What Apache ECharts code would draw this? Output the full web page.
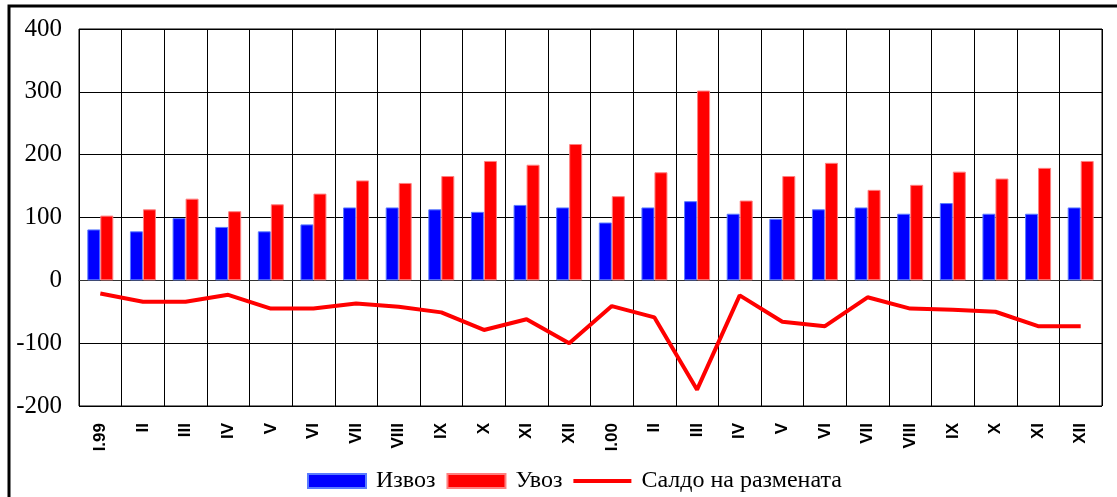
<!DOCTYPE html>
<html>
<head>
<meta charset="utf-8">
<script src="https://cdn.jsdelivr.net/npm/echarts@6/dist/echarts.min.js"></script>
<style>
  html, body { margin: 0; padding: 0; background: #fff; }
  #chart { width: 1117px; height: 497px; }
</style>
</head>
<body>
<div id="chart"></div>
<script>
const months = ['I.99', 'II', 'III', 'IV', 'V', 'VI', 'VII', 'VIII', 'IX', 'X', 'XI', 'XII',
                'I.00', 'II', 'III', 'IV', 'V', 'VI', 'VII', 'VIII', 'IX', 'X', 'XI', 'XII']
const exportVals = [81, 78, 99, 85, 78, 89, 116, 116, 113, 109, 120, 116,
                    92, 116, 126, 106, 98, 113, 116, 106, 123, 106, 106, 116]
const importVals = [103, 113, 130, 110, 121, 138, 159, 155, 166, 190, 184, 217,
                    134, 172, 302, 127, 166, 187, 144, 152, 173, 162, 179, 190]
const balanceVals = [-21, -34, -34, -23, -45, -45, -37, -42, -51, -79, -62, -100,
                     -41, -59, -174, -24, -66, -73, -27, -45, -47, -50, -73, -73]

const serif = '"Liberation Serif", "Times New Roman", serif'

const myChart = echarts.init(document.getElementById('chart'))
myChart.setOption({
    animation: false,
    grid: {
        left: 79, top: 29, width: 1023, height: 377,
        show: true, borderColor: '#000', borderWidth: 1
    },
    legend: {
        left: 302, top: 464,
        itemWidth: 58, itemHeight: 14, itemGap: 11,
        symbolKeepAspect: true,
        textStyle: {fontFamily: serif, fontSize: 24, color: '#000', padding: [0, 0, 0, 5]},
        data: [
            {name: 'Извоз', icon: 'rect'},
            {name: 'Увоз', icon: 'rect'},
            {name: 'Салдо на размената', icon: 'path://M0 0H60V4H0Z'}
        ]
    },
    xAxis: [
        {
            type: 'category',
            data: months,
            position: 'bottom',
            axisLine: {show: false, onZero: false},
            axisTick: {show: false},
            axisLabel: {
                interval: 0, rotate: 90, margin: 17,
                fontFamily: '"Liberation Sans", Arial, sans-serif',
                fontWeight: 'bold', fontSize: 17, color: '#000'
            },
            splitLine: {show: true, interval: 0, lineStyle: {color: '#000', width: 1}}
        },
        {
            type: 'category',
            data: months,
            position: 'bottom',
            axisLine: {show: true, onZero: true, lineStyle: {color: '#333', width: 1}},
            axisTick: {show: true, inside: true, length: 5, lineStyle: {color: '#000'}},
            axisLabel: {show: false},
            splitLine: {show: false}
        }
    ],
    yAxis: {
        type: 'value',
        min: -200, max: 400, interval: 100,
        axisLine: {show: false},
        axisTick: {show: false},
        axisLabel: {fontFamily: serif, fontSize: 25, color: '#000', margin: 17},
        splitLine: {lineStyle: {color: '#000', width: 1}}
    },
    series: [
        {
            name: 'Извоз',
            type: 'bar',
            data: exportVals,
            barWidth: 13,
            barGap: '0%',
            itemStyle: {color: '#0000ff', borderColor: '#5a7cff', borderWidth: 1}
        },
        {
            name: 'Увоз',
            type: 'bar',
            data: importVals,
            barWidth: 13,
            barGap: '0%',
            itemStyle: {color: '#ff0000', borderColor: '#ff8080', borderWidth: 1}
        },
        {
            name: 'Салдо на размената',
            type: 'line',
            data: balanceVals,
            symbol: 'none',
            lineStyle: {color: '#ff0000', width: 4},
            itemStyle: {color: '#ff0000'},
            z: 5
        }
    ],
    graphic: [
        {
            type: 'rect',
            shape: {x: 9, y: 6, width: 1200, height: 600},
            style: {fill: null, stroke: '#000', lineWidth: 3},
            silent: true
        }
    ]
})
</script>
</body>
</html>
